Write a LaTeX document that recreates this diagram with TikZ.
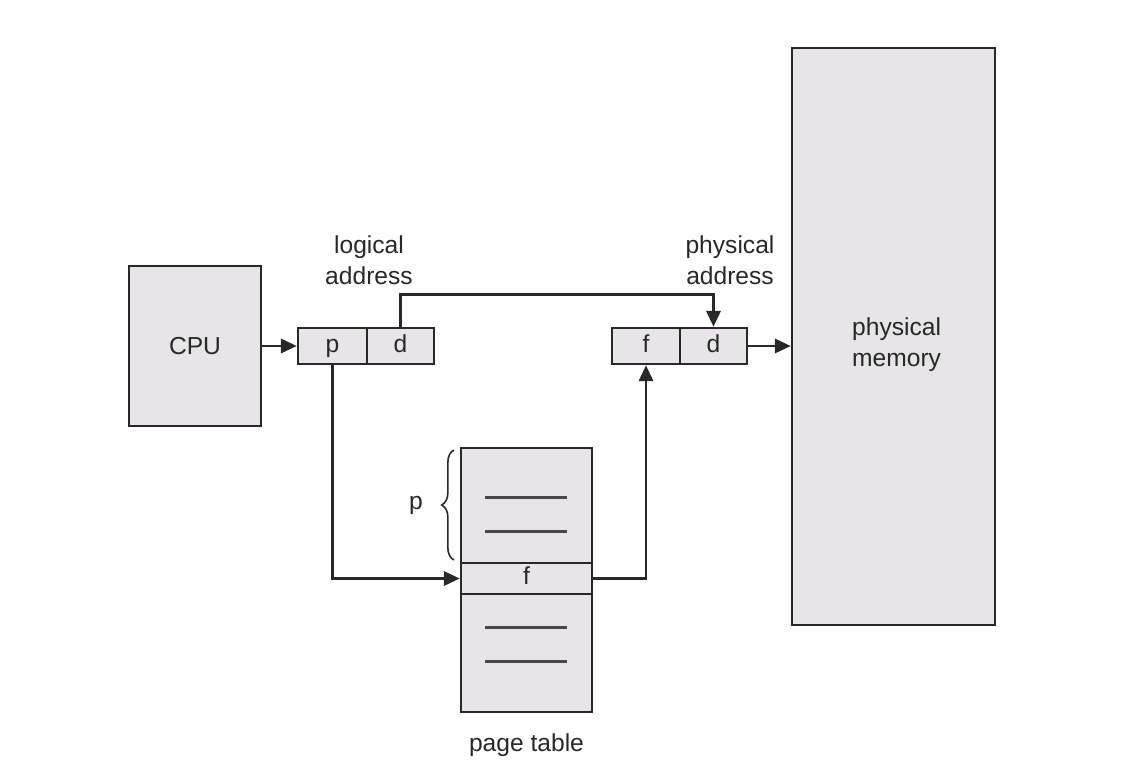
\documentclass[tikz,border=0pt]{standalone}
\usepackage{fontspec}
\setmainfont{Liberation Sans}
\usetikzlibrary{arrows.meta,decorations.pathreplacing}
\definecolor{boxfill}{RGB}{232,229,233}
\definecolor{inkgray}{RGB}{40,40,40}
\begin{document}
\begin{tikzpicture}[x=0.02cm, y=-0.02cm,
    font=\fontsize{14}{17.6}\selectfont, text=inkgray,
    box/.style={draw=inkgray, line width=1.4pt, fill=boxfill, inner sep=0pt},
    field/.style={box, minimum height=0.72cm, text height=10pt, text depth=3pt},
    conn/.style={draw=inkgray, line width=1.6pt, -{Triangle[length=9pt,width=8pt]}},
    entry/.style={draw=inkgray!85, line width=1.7pt}]
				\useasboundingbox (0,0) rectangle (1137,778);

				% CPU
				\node[box, minimum width=2.64cm, minimum height=3.2cm] (cpu) at (195,346) {CPU};

				% logical address
				\node[field, minimum width=1.38cm] (lap) at (332.5,346) {p};
				\node[field, minimum width=1.34cm] (lad) at (400.5,346) {d};
				\node[align=center] (lalabel) at (369,260) {logical\\address};

				% physical address
				\node[field, minimum width=1.36cm] (paf) at (646,346) {f};
				\node[field, minimum width=1.34cm] (pad) at (713.5,346) {d};
				\node[align=center] (palabel) at (730,260) {physical\\address};

				% physical memory
				\node[box, minimum width=4.06cm, minimum height=11.54cm] (mem) at (893.5,336.5) {};
				\node[align=left, anchor=west] (memlabel) at (846,345) {physical\\memory};

				% page table
				\node[box, minimum width=2.62cm, minimum height=2.3cm] (pttop) at (526.5,505.5) {};
				\node[field, minimum width=2.62cm, minimum height=0.62cm] (ptf) at (526.5,578.5) {f};
				\node[box, minimum width=2.62cm, minimum height=2.36cm] (ptbot) at (526.5,653) {};
				\node (ptlabel) at (526.5,745) {page table};
				\draw[entry] (485,497) -- (567,497);
				\draw[entry] (485,531) -- (567,531);
				\draw[entry] (485,627) -- (567,627);
				\draw[entry] (485,661) -- (567,661);
				\draw[draw=inkgray, line width=0.9pt, decorate, decoration={brace, amplitude=7pt}]
					(454,560) -- (454,450);
				\node (pbrace) at (416,505) {p};

				% connectors
				\draw[conn] (cpu.east) -- (lap.west);
				\draw[conn] (lad.north) -- ++(0,-32) -| (pad.north);
				\draw[conn] (lap.south) |- (ptf.west);
				\draw[conn] (ptf.east) -| (paf.south);
				\draw[conn] (pad.east) -- (pad.east -| mem.west);
			\end{tikzpicture}
\end{document}
